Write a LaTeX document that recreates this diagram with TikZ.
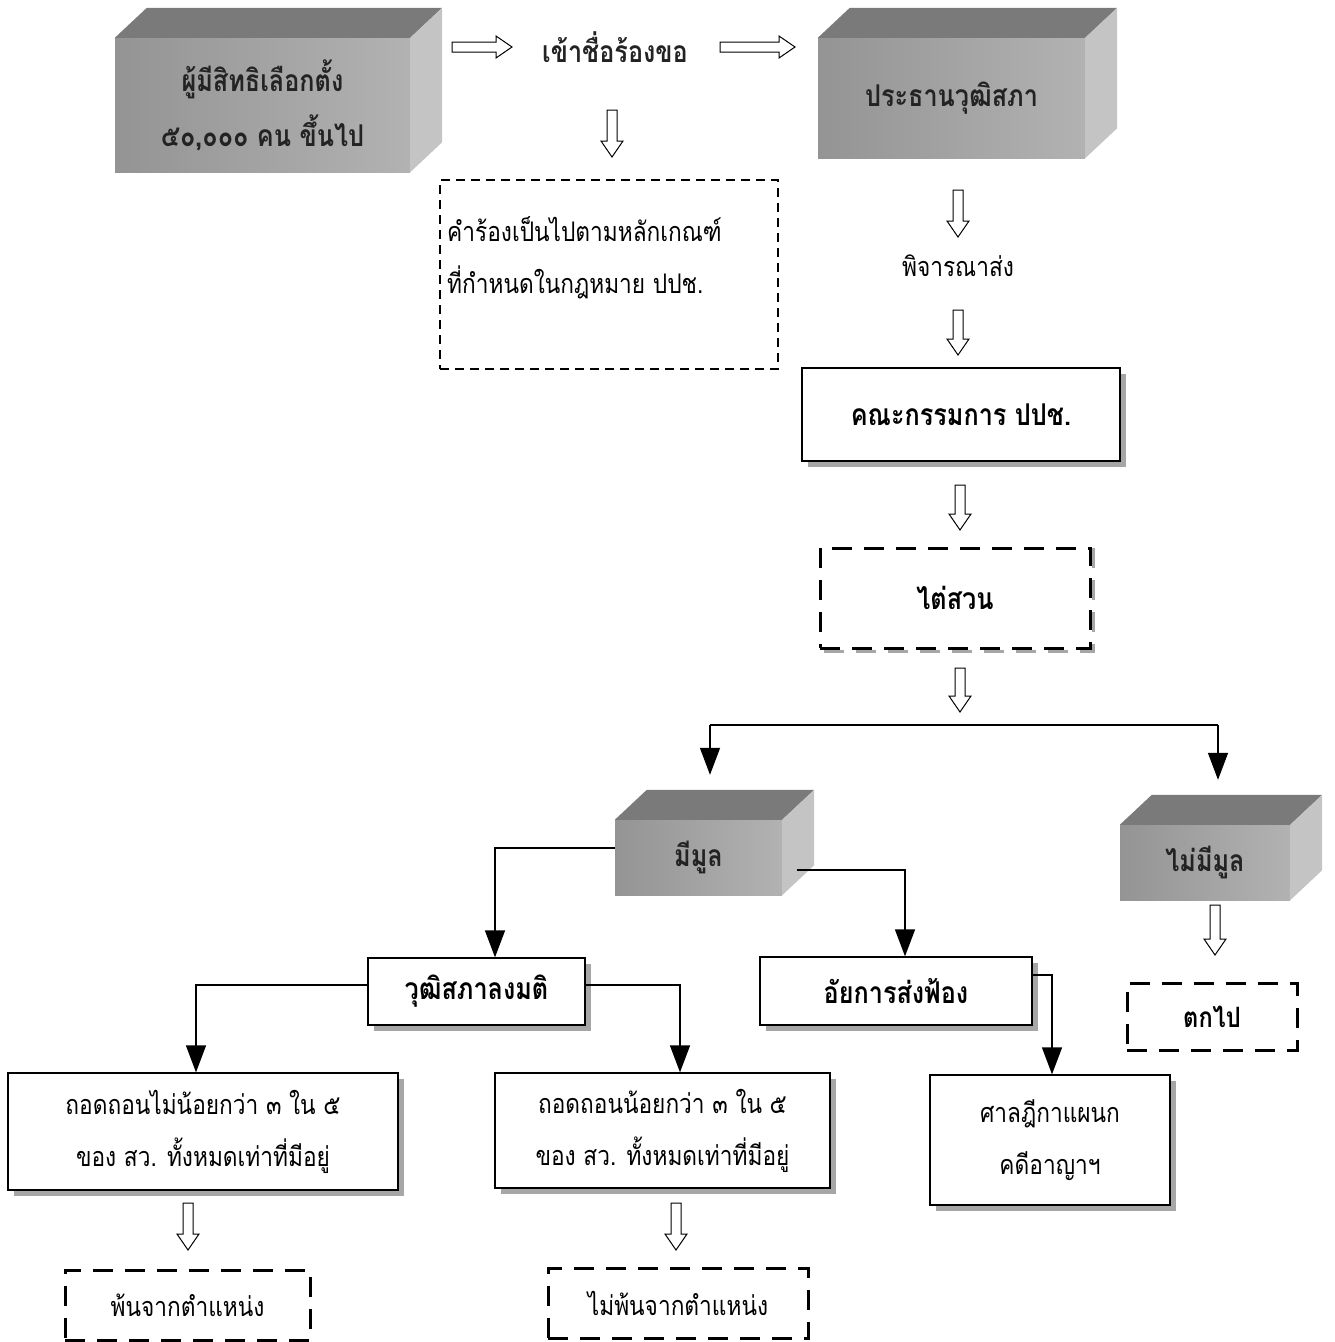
\documentclass[tikz,border=0pt]{standalone}
\usepackage{fontspec}
\newfontfamily\thai[Script=Thai,FakeStretch=0.84]{Loma}
\usetikzlibrary{arrows.meta,shadows,calc}
\definecolor{frontL}{RGB}{148,148,148}
\definecolor{frontR}{RGB}{178,178,178}
\definecolor{topC}{RGB}{122,122,122}
\definecolor{sideC}{RGB}{196,196,196}
\definecolor{ink}{RGB}{35,35,35}
\newcommand\boxfaces[1]{%
  \fill[topC] (#1.north west) -- ++(32,-30) -- ($(#1.north east)+(32,-30)$) -- (#1.north east) -- cycle;
  \fill[sideC] (#1.north east) -- ++(32,-30) -- ($(#1.south east)+(32,-30)$) -- (#1.south east) -- cycle;}
\begin{document}
\begin{tikzpicture}[x=1pt,y=-1pt,
  bfont/.style={font=\thai\bfseries\fontsize{30}{55}\selectfont},
  rfont/.style={font=\thai\fontsize{27}{52}\selectfont},
  cube/.style={bfont, inner sep=0pt, align=center, text=ink, left color=frontL, right color=frontR},
  box/.style={draw=black, line width=1.3pt, fill=white, inner sep=0pt, align=center,
    drop shadow={shadow xshift=6pt, shadow yshift=-6pt, fill=gray!70, opacity=1}},
  dbox/.style={draw=black, line width=3pt, dash pattern=on 20pt off 12pt, inner sep=0pt, fill=white, align=center},
  conn/.style={line width=1.4pt, -{Triangle[width=20pt,length=27pt]}},
  hdown/.pic={\draw[line width=1pt,fill=white] (-5,0) -- (-5,#1-16) -- (-11,#1-16) -- (0,#1) -- (11,#1-16) -- (5,#1-16) -- (5,0) -- cycle;},
  hright/.pic={\draw[line width=1pt,fill=white] (0,-5) -- (#1-16,-5) -- (#1-16,-11) -- (#1,0) -- (#1-16,11) -- (#1-16,5) -- (0,5) -- cycle;}
]
\useasboundingbox (0,0) rectangle (1335,1342);

% top row
\node[cube, minimum width=295pt, minimum height=134pt] (b1) at (262.5,105) {ผู้มีสิทธิเลือกตั้ง\\๕๐,๐๐๐ คน ขึ้นไป};
\boxfaces{b1}
\node[bfont, text=ink] (req) at (615,47) {เข้าชื่อร้องขอ};
\node[cube, minimum width=267pt, minimum height=120pt] (b2) at (951.5,98) {ประธานวุฒิสภา};
\boxfaces{b2}

\pic at (452,47) {hright=60};
\pic at (720,47) {hright=75};
\pic at (612,110) {hdown=47};

% criteria box
\node[draw=black, line width=1.2pt, dash pattern=on 9pt off 6pt, minimum width=338pt, minimum height=189pt, inner sep=0pt] (crit) at (609,274.5) {};
\node[rfont, align=left, anchor=west, inner sep=0pt] (crittext) at (447,258) {คำร้องเป็นไปตามหลักเกณฑ์\\ที่กำหนดในกฎหมาย ปปช.};

% right column
\pic at (958,190) {hdown=47};
\node[rfont] (cons) at (958,266) {พิจารณาส่ง};
\pic at (958,310) {hdown=45};
\node[box, bfont, minimum width=318pt, minimum height=93pt] (nacc) at (961,414.5) {คณะกรรมการ ปปช.};
\pic at (960,485) {hdown=45};
\draw[gray!70, line width=3pt, dash pattern=on 20pt off 12pt] (1093,548) -- (1093,651) -- (820,651);
\node[dbox, bfont, minimum width=270pt, minimum height=100pt] (inv) at (955,598) {ไต่สวน};
\pic at (960,668) {hdown=44};

% split
\coordinate (split) at (960,725);
\node[cube, minimum width=167pt, minimum height=75pt] (mm) at (698.5,857.5) {มีมูล};
\boxfaces{mm}
\node[cube, minimum width=170pt, minimum height=75pt] (nmm) at (1205,862.5) {ไม่มีมูล};
\boxfaces{nmm}
\draw[line width=1.4pt] (split) -- (710,725);
\draw[line width=1.4pt] (split) -- (1218,725);
\draw[conn] (710,725) -- ($(mm.north)+(11.5,-45)$);
\draw[conn] (1218,725) -- ($(nmm.north)+(13,-45)$);

\pic at (1215,905) {hdown=50};
\node[dbox, font=\thai\bfseries\fontsize{28}{30}\selectfont, minimum width=170pt, minimum height=67pt] (fall) at (1212,1016.5) {ตกไป};

% second level
\node[box, bfont, minimum width=217pt, minimum height=67pt] (vote) at (476.5,991.5) {วุฒิสภาลงมติ};
\node[box, bfont, minimum width=272pt, minimum height=68pt] (pros) at (896,991) {อัยการส่งฟ้อง};
\draw[conn] ([yshift=9.5pt]mm.west) -| ([xshift=18.5pt]vote.north);
\draw[conn] ($(mm.east)+(15,12.5)$) -| ([xshift=9pt]pros.north);

\node[box, rfont, minimum width=390pt, minimum height=117pt] (r1) at (203,1131.5) {ถอดถอนไม่น้อยกว่า ๓ ใน ๕\\ของ สว. ทั้งหมดเท่าที่มีอยู่};
\node[box, rfont, minimum width=335pt, minimum height=115pt] (r2) at (662.5,1130.5) {ถอดถอนน้อยกว่า ๓ ใน ๕\\ของ สว. ทั้งหมดเท่าที่มีอยู่};
\node[box, rfont, minimum width=240pt, minimum height=130pt] (court) at (1050,1140) {ศาลฎีกาแผนก\\คดีอาญาฯ};
\draw[conn] ([yshift=6.5pt]vote.west) -| ([xshift=-7pt]r1.north);
\draw[conn] ([yshift=6.5pt]vote.east) -| ([xshift=17.5pt]r2.north);
\draw[conn] ([yshift=16pt]pros.east) -| ([xshift=2pt]court.north);

\pic at (188,1203) {hdown=47};
\pic at (676,1203) {hdown=47};
\node[dbox, rfont, minimum width=245pt, minimum height=70pt] (out) at (187.5,1305) {พ้นจากตำแหน่ง};
\node[dbox, rfont, minimum width=260pt, minimum height=70pt] (notout) at (678,1303) {ไม่พ้นจากตำแหน่ง};
\end{tikzpicture}
\end{document}
